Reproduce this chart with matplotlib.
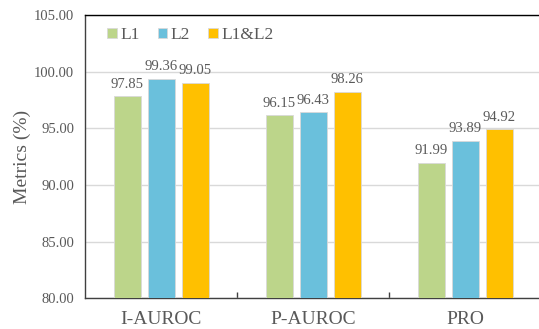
import numpy as np
import matplotlib
matplotlib.use("Agg")
import matplotlib.pyplot as plt

plt.rcParams['font.family'] = ['Liberation Serif', 'DejaVu Serif']

categories = ["I-AUROC", "P-AUROC", "PRO"]
series_names = ["L1", "L2", "L1&L2"]
l1_values = [97.85, 96.15, 91.99]
l2_values = [99.36, 96.43, 93.89]
l1l2_values = [99.05, 98.26, 94.92]
y_ticks = [80.0, 85.0, 90.0, 95.0, 100.0, 105.0]

colors = ["#BCD58A", "#6AC0DC", "#FFC000"]
text_color = "#595959"

fig = plt.figure(figsize=(5.39, 3.29), dpi=100)
ax = fig.add_axes([0.158, 0.093, 0.846, 0.861])

x = np.arange(len(categories))
width = 0.178
step = 0.224
for i, (name, vals) in enumerate(zip(series_names, [l1_values, l2_values, l1l2_values])):
    bars = ax.bar(x + (i - 1) * step, vals, width, color=colors[i], label=name,
                  edgecolor="#D9D9D9", linewidth=0.6, zorder=3)
    for b, v in zip(bars, vals):
        ax.annotate(f"{v:.2f}", (b.get_x() + b.get_width() / 2, v),
                    xytext=(0, 4), textcoords="offset points",
                    ha="center", va="bottom", fontsize=10.5, color=text_color)

ax.set_xlim(-0.5, 2.5)
ax.set_ylim(80, 105)
ax.set_yticks(y_ticks)
ax.set_yticklabels([f"{t:.2f}" for t in y_ticks])
ax.yaxis.grid(True, color="#D9D9D9", linewidth=1.0, zorder=0)
ax.set_axisbelow(True)

ax.set_xticks(x)
ax.set_xticklabels(categories, fontsize=14, color=text_color)
ax.tick_params(axis="x", length=0, pad=9)
ax.set_xticks([0.5, 1.5], minor=True)
ax.tick_params(axis="x", which="minor", direction="in", length=4, width=1, color="#404040")
ax.tick_params(axis="y", length=0, labelsize=10.5, labelcolor=text_color, pad=8)

ax.set_ylabel("Metrics (%)", fontsize=14, color=text_color, labelpad=2)

for side in ["left", "bottom"]:
    ax.spines[side].set_color("#404040")
    ax.spines[side].set_linewidth(1.0)
ax.spines["top"].set_color("black")
ax.spines["top"].set_linewidth(1.0)
ax.spines["right"].set_visible(False)

leg = ax.legend(loc="upper left", bbox_to_anchor=(0.014, 1.012), ncol=3, frameon=False,
                fontsize=12.5, handlelength=0.55, handleheight=0.55, handletextpad=0.2,
                columnspacing=1.05, labelcolor=text_color)

fig.savefig("out.png", dpi=100)
